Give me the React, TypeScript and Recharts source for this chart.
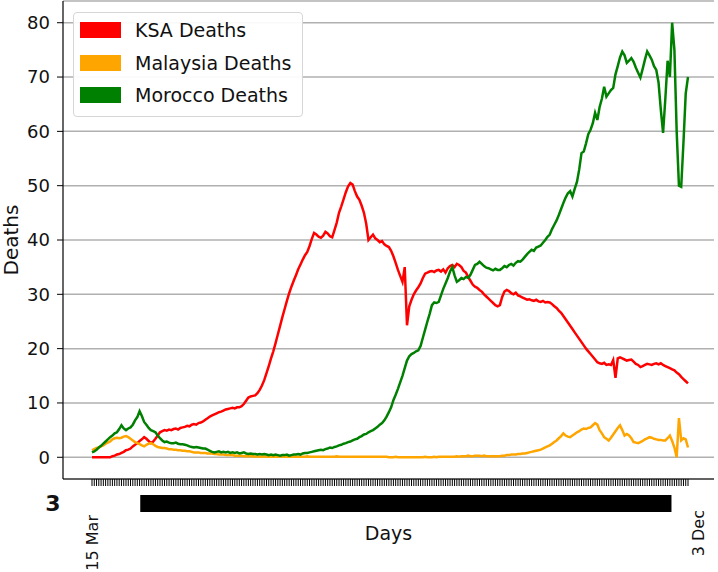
import { LineChart, Line, XAxis, YAxis, CartesianGrid, Legend, Label } from 'recharts';

const FONT = '"DejaVu Sans", sans-serif';

// daily categories, 15 Mar .. 3 Dec
const monthLengths: [string, number][] = [
  ['Mar', 31], ['Apr', 30], ['May', 31], ['Jun', 30], ['Jul', 31],
  ['Aug', 31], ['Sep', 30], ['Oct', 31], ['Nov', 30], ['Dec', 31],
];
const allDays: string[] = [];
monthLengths.forEach(([m, n]) => {
  for (let d = 1; d <= n; d++) allDays.push(`${d} ${m}`);
});
const dayLabels = allDays.slice(allDays.indexOf('15 Mar'), allDays.indexOf('3 Dec') + 1);

const seriesNames = ['KSA Deaths', 'Malaysia Deaths', 'Morocco Deaths'];
const seriesColors = ['#ff0000', '#ffa500', '#008000'];

const ksaDeaths = [
  0, 0, 0, 0, 0, 0, 0, 0, 0, 0.2,
  0.3, 0.5, 0.6, 0.8, 1.0, 1.3, 1.4, 1.6, 2.0, 2.3,
  2.6, 3.0, 3.3, 3.7, 3.4, 3.0, 2.6, 2.9, 3.4, 4.0,
  4.6, 4.8, 5.0, 4.9, 5.1, 5.0, 5.2, 5.3, 5.1, 5.4,
  5.5, 5.6, 5.8, 5.7, 6.0, 6.1, 6.0, 6.3, 6.4, 6.6,
  6.9, 7.2, 7.5, 7.7, 7.9, 8.1, 8.3, 8.4, 8.6, 8.8,
  8.9, 9.0, 9.1, 9.0, 9.2, 9.2, 9.4, 9.8, 10.4, 11.0,
  11.2, 11.3, 11.4, 11.8, 12.4, 13.2, 14.2, 15.5, 16.8, 18.2,
  19.5, 21.0, 22.6, 24.2, 25.8, 27.3, 28.8, 30.2, 31.4, 32.5,
  33.5, 34.6, 35.5, 36.4, 37.2, 37.8, 38.9, 40.2, 41.3, 41.0,
  40.6, 40.4, 40.8, 41.5, 41.2, 40.7, 40.5, 41.8, 43.2, 45.0,
  46.2, 47.5, 48.8, 49.9, 50.5, 50.2, 49.0, 48.0, 47.4, 46.3,
  45.0, 43.0, 40.0, 40.5, 41.0, 40.3, 40.0, 39.6, 39.8, 39.2,
  38.9, 38.7, 38.0, 37.0, 35.8, 34.5, 33.4, 32.3, 35.0, 24.3,
  27.8, 29.0, 30.0, 30.7, 31.3, 32.0, 33.0, 33.8, 34.0, 34.2,
  34.3, 34.1, 34.4, 34.5, 34.2, 34.6, 34.0, 34.8, 35.2, 35.4,
  35.0, 35.6, 35.4, 35.0, 34.3, 34.0, 33.2, 32.5, 31.8, 31.4,
  31.2, 30.8, 30.5, 30.0, 29.6, 29.2, 28.8, 28.4, 28.0, 27.8,
  28.0, 29.5, 30.5, 30.8, 30.6, 30.2, 30.0, 30.3, 29.8, 29.6,
  29.4, 29.2, 29.0, 29.1, 28.9, 28.8, 29.0, 28.7, 28.6, 28.8,
  28.5, 28.6, 28.5, 28.2, 27.8, 27.5, 27.0, 26.6, 26.0, 25.4,
  24.8, 24.2, 23.6, 23.0, 22.4, 21.8, 21.2, 20.6, 20.0, 19.5,
  19.0, 18.5, 18.0, 17.5, 17.3, 17.2, 17.4, 17.0, 17.1, 17.0,
  17.9, 14.6, 18.2, 18.4, 18.2, 18.0, 17.8, 17.9, 18.0, 17.6,
  17.2, 17.0, 16.6, 16.8, 17.0, 17.2, 17.1, 17.0, 17.2, 17.3,
  17.1, 17.3, 17.0, 16.8, 16.6, 16.4, 16.2, 16.0, 15.6, 15.3,
  14.8, 14.4, 14.0, 13.6,
];

const malaysiaDeaths = [
  1.3, 1.5, 1.7, 1.8, 2.0, 2.2, 2.5, 2.7, 2.9, 3.3,
  3.5, 3.6, 3.5, 3.6, 3.8, 3.9, 3.7, 3.4, 3.1, 2.8,
  2.6, 2.4, 2.2, 2.0, 2.3, 2.5, 2.6, 2.4, 2.1, 1.9,
  1.8, 1.7, 1.7, 1.6, 1.5, 1.5, 1.4, 1.4, 1.3, 1.3,
  1.2, 1.2, 1.1, 1.1, 1.0, 0.9, 0.9, 0.9, 0.8, 0.8,
  0.8, 0.7, 0.7, 0.7, 0.6, 0.6, 0.5, 0.5, 0.5, 0.4,
  0.4, 0.4, 0.4, 0.3, 0.3, 0.3, 0.3, 0.2, 0.2, 0.2,
  0.2, 0.2, 0.1, 0.2, 0.1, 0.1, 0.2, 0.1, 0.1, 0.1,
  0.1, 0.1, 0.1, 0.2, 0.1, 0.1, 0.1, 0.1, 0.1, 0.1,
  0.1, 0.1, 0.1, 0.1, 0.1, 0.2, 0.1, 0.1, 0.1, 0.1,
  0.1, 0.1, 0.1, 0.1, 0.1, 0.1, 0.1, 0.1, 0.2, 0.1,
  0.1, 0.1, 0.1, 0.1, 0.1, 0.1, 0.1, 0.1, 0.1, 0.1,
  0.1, 0.1, 0.1, 0.1, 0.1, 0.1, 0.1, 0.1, 0.1, 0.1,
  0.1, 0, 0, 0, 0.1, 0, 0, 0, 0, 0,
  0, 0, 0, 0, 0, 0, 0, 0.1, 0, 0,
  0, 0.1, 0, 0.1, 0.1, 0.1, 0.1, 0.1, 0.1, 0.1,
  0.1, 0.2, 0.1, 0.2, 0.2, 0.2, 0.3, 0.2, 0.2, 0.3,
  0.3, 0.3, 0.2, 0.3, 0.2, 0.2, 0.2, 0.2, 0.2, 0.2,
  0.2, 0.3, 0.3, 0.4, 0.4, 0.5, 0.5, 0.5, 0.6, 0.6,
  0.7, 0.7, 0.8, 0.9, 1.0, 1.1, 1.2, 1.3, 1.4, 1.6,
  1.8, 2.0, 2.2, 2.5, 2.8, 3.1, 3.5, 3.9, 4.4, 4.0,
  3.8, 3.7, 4.0, 4.3, 4.6, 4.8, 5.1, 5.3, 5.2, 5.4,
  5.5, 5.9, 6.3, 6.0, 5.0, 4.4, 3.7, 3.4, 3.1, 3.6,
  4.2, 4.8, 5.4, 5.9, 5.0, 4.0, 4.3, 4.0, 3.5, 2.8,
  2.7, 2.6, 2.8, 3.0, 3.3, 3.5, 3.7, 3.6, 3.4, 3.3,
  3.2, 3.2, 3.1, 3.1, 3.5, 4.0, 3.0, 1.8, 0.0, 7.2,
  3.1, 3.5, 3.3, 1.8,
];

const moroccoDeaths = [
  0.9, 1.1, 1.4, 1.8, 2.1, 2.5, 2.9, 3.3, 3.7, 4.0,
  4.4, 4.6, 5.2, 5.9, 5.3, 5.0, 5.3, 5.5, 6.0, 6.8,
  7.4, 8.5, 7.6, 6.5, 6.0, 5.4, 5.0, 4.8, 4.6, 4.0,
  3.5, 3.1, 2.8, 2.9, 2.7, 2.6, 2.6, 2.7, 2.5, 2.4,
  2.4, 2.3, 2.2, 2.0, 1.9, 1.8, 1.9, 1.8, 1.7, 1.6,
  1.6, 1.4, 1.2, 1.0, 0.9, 1.0, 1.1, 0.9, 1.0, 0.9,
  1.0, 0.8, 0.9, 0.8, 0.9, 0.7, 0.8, 0.9, 0.7, 0.6,
  0.7, 0.6, 0.6, 0.5, 0.6, 0.5, 0.6, 0.5, 0.4, 0.5,
  0.4, 0.5, 0.4, 0.3, 0.4, 0.4, 0.5, 0.3, 0.4, 0.5,
  0.5, 0.6, 0.5, 0.7, 0.8, 0.8, 0.9, 1.0, 1.1, 1.2,
  1.3, 1.4, 1.3, 1.5, 1.6, 1.8, 1.7, 1.9, 2.0, 2.2,
  2.3, 2.5, 2.6, 2.8, 2.9, 3.1, 3.3, 3.4, 3.7, 3.9,
  4.2, 4.3, 4.6, 4.8, 5.0, 5.3, 5.6, 6.0, 6.3, 6.8,
  7.5, 8.3, 9.2, 10.5, 11.5, 12.6, 13.8, 15.0, 16.4, 17.8,
  18.6, 19.0, 19.2, 19.5, 19.7, 20.5, 22.0, 23.5, 25.0, 26.4,
  28.0, 28.5, 28.4, 28.6, 29.8, 31.0, 32.0, 33.0, 34.2, 35.0,
  33.5, 32.3, 32.6, 33.0, 32.8, 33.2, 33.0, 33.6, 34.5, 35.4,
  35.6, 36.0, 35.6, 35.2, 34.9, 34.8, 34.6, 34.4, 34.7, 34.5,
  34.5, 34.8, 35.2, 35.0, 35.4, 35.6, 35.3, 35.8, 36.1, 36.0,
  36.4, 36.9, 37.4, 37.8, 38.2, 38.0, 38.6, 38.8, 39.0, 39.5,
  40.0, 40.6, 41.0, 42.0, 42.8, 43.6, 44.6, 45.7, 46.8, 47.8,
  48.6, 49.0, 48.0, 49.4, 50.7, 53.0, 56.0, 56.3, 57.8, 59.5,
  60.3, 61.5, 63.4, 62.1, 64.5, 66.0, 68.2, 66.4, 67.0, 67.6,
  68.0, 70.5, 72.0, 73.6, 74.7, 74.0, 72.6, 73.0, 73.5, 72.8,
  71.7, 70.8, 69.9, 71.5, 73.2, 74.7, 74.0, 73.2, 72.0, 71.3,
  69.0, 64.0, 59.7, 66.0, 73.0, 70.0, 80.0, 75.0, 60.0, 50.0,
  49.8, 58.0, 67.0, 70.0,
];

const yTicks = [0, 10, 20, 30, 40, 50, 60, 70, 80];

const data = dayLabels.map((day, i) => ({
  day,
  ksa: ksaDeaths[i],
  malaysia: malaysiaDeaths[i],
  morocco: moroccoDeaths[i],
}));

// dense rotated day labels: only the ends are readable, the rest overlap into a block
const DayTick = (props: any) => {
  const { x, y, index } = props;
  const last = dayLabels.length - 1;
  if (index === 0) {
    return (
      <g>
        <text x={x} y={y + 29} transform={`rotate(-90 ${x} ${y + 29})`} textAnchor="end"
          dominantBaseline="central" fontFamily={FONT} fontSize={16} fill="#111">
          {dayLabels[0]}
        </text>
        <text x={53} y={y + 25} textAnchor="middle" fontFamily={FONT} fontSize={22} fontWeight="bold" fill="#111">3</text>
      </g>
    );
  }
  if (index === last) {
    return (
      <text x={x + 10} y={y + 24} transform={`rotate(-90 ${x + 10} ${y + 24})`} textAnchor="end"
        dominantBaseline="central" fontFamily={FONT} fontSize={16} fill="#111">
        {dayLabels[last]}
      </text>
    );
  }
  if (index >= 22 && index <= 255) {
    return <rect x={x - 1.6} y={y + 9} width={3.2} height={17} fill="#000" />;
  }
  return null;
};

const LegendBox = () => (
  <div style={{
    width: 230, height: 105, boxSizing: 'border-box', border: '1px solid #d6d6d6', borderRadius: 4,
    background: 'rgba(255,255,255,0.92)', padding: '1px 6px', fontFamily: FONT, fontSize: 19, color: '#111',
  }}>
    {seriesNames.map((name, i) => (
      <div key={name} style={{ display: 'flex', alignItems: 'center', height: 32.5 }}>
        <span style={{ width: 41, height: 16, background: seriesColors[i], marginRight: 14, display: 'inline-block' }} />
        {name}
      </div>
    ))}
  </div>
);

const DeathsLabel = () => (
  <text x={11} y={240} transform="rotate(-90 11 240)" textAnchor="middle" dominantBaseline="central"
    fontFamily={FONT} fontSize={20} fill="#111">Deaths</text>
);

export default function App() {
  return (
    <div style={{ position: 'absolute', left: 0, top: 0, width: 718, height: 572, background: '#fff' }}>
      <LineChart width={718} height={572} data={data} margin={{ top: 1, right: 4, left: 3, bottom: 0 }}>
        <CartesianGrid vertical={false} stroke="#b0b0b0" strokeWidth={1.5} />
        <XAxis dataKey="day" interval={0} height={93} padding={{ left: 29, right: 26 }}
          axisLine={{ stroke: '#000', strokeWidth: 1.2 }} tickLine={{ stroke: '#000' }} tickSize={7} tickMargin={0}
          tick={<DayTick />}>
          <Label value="Days" position="insideBottom" offset={32} style={{ fontFamily: FONT, fontSize: 19, fill: '#111' }} />
        </XAxis>
        <XAxis xAxisId="top" dataKey="day" orientation="top" height={0} tick={false} tickLine={false}
          axisLine={{ stroke: '#000', strokeWidth: 1.2 }} />
        <YAxis domain={[-4, 84]} ticks={yTicks} allowDataOverflow width={60}
          axisLine={{ stroke: '#000', strokeWidth: 1.2 }} tickLine={{ stroke: '#000' }} tickSize={6} tickMargin={7}
          tick={{ fontFamily: FONT, fontSize: 18, fill: '#111' }}>
          <Label content={<DeathsLabel />} />
        </YAxis>
        <YAxis yAxisId="right" orientation="right" width={0} tick={false} tickLine={false}
          axisLine={{ stroke: '#000', strokeWidth: 1.2 }} />
        <Legend layout="vertical" align="center" verticalAlign="middle" content={<LegendBox />}
          wrapperStyle={{ left: 73, top: 12, width: 230, height: 105 }} />
        <Line type="linear" dataKey="ksa" name={seriesNames[0]} stroke={seriesColors[0]} strokeWidth={2.5}
          dot={false} isAnimationActive={false} />
        <Line type="linear" dataKey="malaysia" name={seriesNames[1]} stroke={seriesColors[1]} strokeWidth={2.5}
          dot={false} isAnimationActive={false} />
        <Line type="linear" dataKey="morocco" name={seriesNames[2]} stroke={seriesColors[2]} strokeWidth={2.5}
          dot={false} isAnimationActive={false} />
      </LineChart>
    </div>
  );
}
